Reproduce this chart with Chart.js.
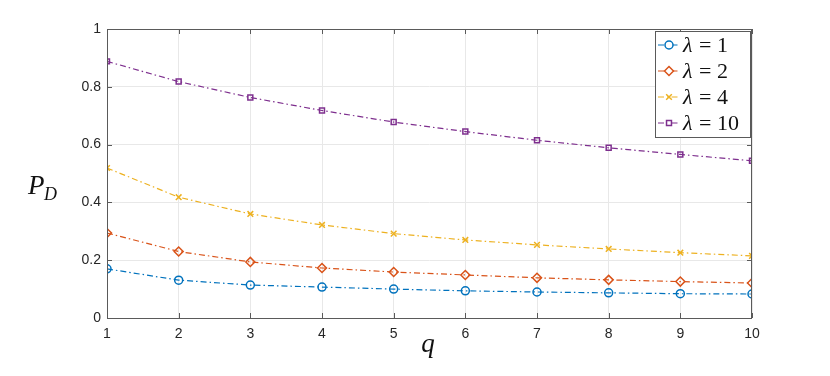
<!DOCTYPE html>
<html>
<head>
<meta charset="utf-8">
<script src="https://cdn.jsdelivr.net/npm/chart.js@4"></script>
<style>
  body { margin: 0; background: #fff; }
  #wrap { width: 830px; height: 376px; }
</style>
</head>
<body>
<div id="wrap"><canvas id="pdChart" width="830" height="376"></canvas></div>
<script>
//---------------------------------------------
// DATA
//---------------------------------------------
const qValues = [1, 2, 3, 4, 5, 6, 7, 8, 9, 10];
const lambdaLabels = ["1", "2", "4", "10"];
const pdLambda1 = [0.170, 0.131, 0.114, 0.107, 0.100, 0.094, 0.090, 0.087, 0.084, 0.083];
const pdLambda2 = [0.294, 0.230, 0.194, 0.173, 0.159, 0.149, 0.139, 0.132, 0.126, 0.121];
const pdLambda4 = [0.519, 0.418, 0.360, 0.322, 0.292, 0.270, 0.253, 0.239, 0.226, 0.215];
const pdLambda10 = [0.888, 0.818, 0.763, 0.718, 0.678, 0.645, 0.615, 0.589, 0.566, 0.544];
const yTicks = [0, 0.2, 0.4, 0.6, 0.8, 1];

const colors = ["#0072BD", "#D95319", "#EDB120", "#7E2F8E"];
const markers = ["circle", "rectRot", "crossRot", "rect"];
const markerSizes = [4, 4.5, 4, 3.5];
const dashDot = [6, 3, 1.5, 3];

function series(values, i) {
    return {
        label: "λ = " + lambdaLabels[i],
        data: qValues.map((q, k) => ({ x: q, y: values[k] })),
        borderColor: colors[i],
        backgroundColor: "rgba(0,0,0,0)",
        borderWidth: 1.2,
        borderDash: dashDot,
        pointStyle: markers[i],
        pointRadius: markerSizes[i],
        pointBorderColor: colors[i],
        pointBackgroundColor: "rgba(0,0,0,0)",
        pointBorderWidth: 1.5,
        tension: 0
    };
}

//---------------------------------------------
// CUSTOM DRAWING (box, axis labels, legend)
//---------------------------------------------
const decorPlugin = {
    id: "decor",
    afterDraw(chart) {
        const ctx = chart.ctx;
        const a = chart.chartArea;
        ctx.save();

        // axes box
        ctx.strokeStyle = "#5a5a5a";
        ctx.lineWidth = 1;
        ctx.strokeRect(Math.round(a.left) + 0.5, Math.round(a.top) + 0.5,
                       Math.round(a.right - a.left) - 1, Math.round(a.bottom - a.top));

        // inward tick marks
        const xs = chart.scales.x, ys = chart.scales.y;
        ctx.beginPath();
        qValues.forEach(q => {
            const px = Math.round(xs.getPixelForValue(q)) + 0.5;
            ctx.moveTo(px, a.bottom); ctx.lineTo(px, a.bottom - 5);
            ctx.moveTo(px, a.top); ctx.lineTo(px, a.top + 5);
        });
        yTicks.forEach(v => {
            const py = Math.round(ys.getPixelForValue(v)) + 0.5;
            ctx.moveTo(a.left, py); ctx.lineTo(a.left + 5, py);
            ctx.moveTo(a.right, py); ctx.lineTo(a.right - 5, py);
        });
        ctx.stroke();

        // axis labels
        ctx.fillStyle = "#111";
        ctx.textBaseline = "alphabetic";
        ctx.font = "italic 27px 'Liberation Serif'";
        ctx.textAlign = "left";
        ctx.fillText("P", 28, 194);
        ctx.font = "italic 18px 'Liberation Serif'";
        ctx.fillText("D", 44, 200);
        ctx.font = "italic 27px 'Liberation Serif'";
        ctx.textAlign = "center";
        ctx.fillText("q", 428, 352);

        // legend
        const lx = 655, ly = 31, lw = 95, lh = 106;
        ctx.fillStyle = "#fff";
        ctx.fillRect(lx, ly, lw, lh);
        ctx.strokeStyle = "#5a5a5a";
        ctx.lineWidth = 1;
        ctx.strokeRect(lx + 0.5, ly + 0.5, lw, lh);
        chart.data.datasets.forEach((ds, i) => {
            const cy = ly + 14 + i * 26;
            ctx.strokeStyle = ds.borderColor;
            ctx.lineWidth = 1.2;
            ctx.setLineDash(dashDot);
            ctx.beginPath();
            ctx.moveTo(lx + 3, cy); ctx.lineTo(lx + 25, cy);
            ctx.stroke();
            ctx.setLineDash([]);
            ctx.fillStyle = "#fff";
            ctx.lineWidth = 1.5;
            Chart.helpers.drawPoint(ctx, { pointStyle: ds.pointStyle, radius: ds.pointRadius, rotation: 0, borderWidth: 1.5 }, lx + 14, cy);
            ctx.fillStyle = "#111";
            ctx.textAlign = "left";
            ctx.font = "italic 22px 'Liberation Serif'";
            ctx.fillText("λ", lx + 28, cy + 7);
            ctx.font = "22px 'Liberation Serif'";
            ctx.fillText("=", lx + 44, cy + 7);
            ctx.fillText(lambdaLabels[i], lx + 62, cy + 7);
        });
        ctx.restore();
    }
};

//---------------------------------------------
// CHART
//---------------------------------------------
const ctx = document.getElementById("pdChart").getContext("2d");
new Chart(ctx, {
    type: "line",
    data: { datasets: [series(pdLambda1, 0), series(pdLambda2, 1), series(pdLambda4, 2), series(pdLambda10, 3)] },
    options: {
        responsive: false,
        animation: false,
        layout: { padding: { left: 0, right: 78, top: 29, bottom: 0 } },
        plugins: { legend: { display: false }, tooltip: { enabled: false } },
        scales: {
            x: {
                type: "linear",
                min: 1, max: 10,
                afterFit: s => { s.height = 58; },
                afterBuildTicks: s => { s.ticks = qValues.map(v => ({ value: v })); },
                grid: { color: "#e8e8e8", drawTicks: false },
                border: { display: false },
                ticks: { padding: 8, color: "#262626", font: { family: "'Liberation Sans'", size: 14 } }
            },
            y: {
                min: 0, max: 1,
                afterFit: s => { s.width = 107; },
                afterBuildTicks: s => { s.ticks = yTicks.map(v => ({ value: v })); },
                grid: { color: "#e8e8e8", drawTicks: false },
                border: { display: false },
                ticks: {
                    padding: 6, color: "#262626", font: { family: "'Liberation Sans'", size: 14 },
                    callback: v => String(v)
                }
            }
        }
    },
    plugins: [decorPlugin]
});
</script>
</body>
</html>
